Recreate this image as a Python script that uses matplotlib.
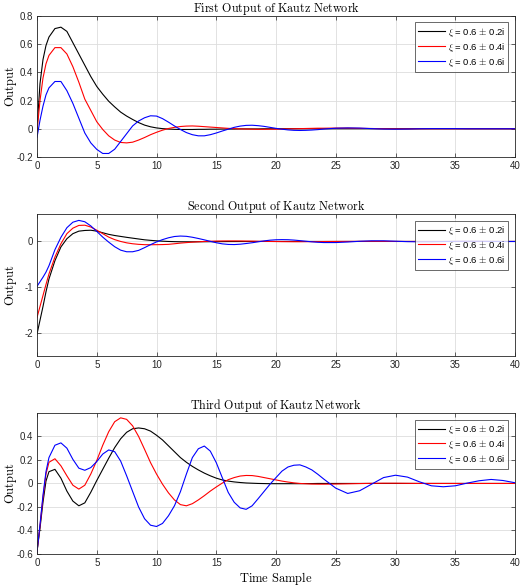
import matplotlib
matplotlib.use("Agg")
import matplotlib.pyplot as plt
import numpy as np

plt.rcParams['font.family'] = ['Liberation Sans', 'DejaVu Sans']
plt.rcParams['mathtext.fontset'] = 'cm'

# time samples (finer at start, then integer samples)
t = [0, 0.25, 0.5, 0.75] + list(np.arange(1, 24.5, 0.5)) + list(range(25, 41))

# --- first output ---
y1_black = [0.0, 0.32, 0.49, 0.59,
            0.65, 0.71, 0.72, 0.69, 0.61, 0.53, 0.45, 0.37, 0.30, 0.245,
            0.195, 0.155, 0.118, 0.09, 0.066, 0.044, 0.026, 0.014, 0.006, 0.001,
            -0.002, -0.004, -0.005, -0.005, -0.005, -0.004, -0.004, -0.003, -0.003, -0.002,
            -0.002, -0.002, -0.001, -0.001, -0.001, -0.001, 0, 0, 0, 0,
            0, 0, 0, 0, 0, 0, 0,
            0, 0, 0, 0, 0, 0, 0, 0, 0, 0, 0, 0, 0, 0, 0, 0]
y1_red = [-0.02, 0.2, 0.36, 0.46,
          0.52, 0.575, 0.575, 0.53, 0.44, 0.33, 0.21, 0.13, 0.05, -0.005,
          -0.05, -0.08, -0.097, -0.10, -0.095, -0.08, -0.062, -0.042, -0.025, -0.01,
          0.002, 0.01, 0.016, 0.019, 0.02, 0.018, 0.015, 0.012, 0.009, 0.006,
          0.003, 0.001, -0.001, -0.002, -0.003, -0.004, -0.004, -0.003, -0.003, -0.002,
          -0.001, 0, 0.001, 0.002, 0.003, 0.004, 0.004,
          0.005, 0.005, 0.003, 0.002, 0, -0.001, -0.001, 0, 0, 0, 0, 0, 0, 0, 0, 0]
y1_blue = [-0.06, 0.06, 0.16, 0.24,
           0.29, 0.335, 0.335, 0.27, 0.18, 0.075, -0.03, -0.10, -0.146, -0.175,
           -0.175, -0.145, -0.09, -0.035, 0.02, 0.055, 0.078, 0.092, 0.09, 0.072,
           0.047, 0.02, -0.005, -0.027, -0.042, -0.05, -0.05, -0.042, -0.03, -0.016,
           -0.003, 0.01, 0.019, 0.024, 0.025, 0.022, 0.017, 0.01, 0.003, -0.003,
           -0.008, -0.011, -0.012, -0.011, -0.009, -0.006, -0.002,
           0.004, 0.006, 0.005, 0.001, -0.002, -0.003, -0.002, 0, 0.001, 0.001, 0.001, 0, 0, 0, 0, 0]

# --- second output ---
y2_black = [-2.02, -1.72, -1.42, -1.1,
            -0.82, -0.42, -0.12, 0.06, 0.17, 0.225, 0.24, 0.245, 0.225, 0.19,
            0.155, 0.13, 0.11, 0.09, 0.072, 0.054, 0.036, 0.024, 0.014, 0.006,
            0.0, -0.004, -0.007, -0.008, -0.008, -0.007, -0.006, -0.005, -0.004, -0.003,
            -0.002, -0.002, -0.001, -0.001, 0, 0, 0, 0, 0, 0,
            0, 0, 0, 0, 0, 0, 0,
            0, 0, 0, 0, 0, 0, 0, 0, 0, 0, 0, 0, 0, 0, 0, 0]
y2_red = [-1.66, -1.42, -1.18, -0.94,
          -0.71, -0.34, -0.05, 0.17, 0.29, 0.35, 0.355, 0.315, 0.245, 0.17,
          0.095, 0.04, 0.0, -0.03, -0.05, -0.063, -0.07, -0.072, -0.07, -0.068,
          -0.063, -0.05, -0.036, -0.025, -0.015, -0.007, 0.0, 0.005, 0.009, 0.011,
          0.012, 0.012, 0.011, 0.009, 0.007, 0.004, 0.002, 0.0, -0.002, -0.004,
          -0.005, -0.006, -0.006, -0.005, -0.004, -0.003, -0.002,
          0, 0.001, 0.002, 0.002, 0.001, 0, 0, 0, 0, 0, 0, 0, 0, 0, 0, 0]
y2_blue = [-0.98, -0.88, -0.78, -0.67,
           -0.53, -0.18, 0.09, 0.30, 0.42, 0.46, 0.43, 0.34, 0.22, 0.095,
           -0.015, -0.115, -0.19, -0.225, -0.225, -0.195, -0.135, -0.07, -0.01, 0.04,
           0.08, 0.108, 0.118, 0.112, 0.092, 0.065, 0.035, 0.003, -0.028, -0.052,
           -0.065, -0.068, -0.06, -0.045, -0.028, -0.008, 0.012, 0.028, 0.037, 0.04,
           0.038, 0.03, 0.018, 0.005, -0.008, -0.018, -0.024,
           -0.024, -0.012, 0.004, 0.014, 0.014, 0.005, -0.004, -0.008, -0.007, -0.002,
           0.002, 0.004, 0.003, 0.001, -0.001, -0.001]

# --- third output ---
y3_black = [-0.58, -0.38, -0.16, 0.02,
            0.10, 0.12, 0.045, -0.065, -0.15, -0.19, -0.165, -0.075, 0.025, 0.12,
            0.215, 0.305, 0.38, 0.435, 0.465, 0.472, 0.465, 0.445, 0.41, 0.37,
            0.32, 0.27, 0.22, 0.18, 0.145, 0.115, 0.088, 0.065, 0.045, 0.03,
            0.02, 0.013, 0.008, 0.004, 0.002, 0.0, -0.001, -0.002, -0.002, -0.002,
            -0.002, -0.002, -0.002, -0.001, -0.001, 0, 0,
            0, 0, 0, 0, 0, 0, 0, 0, 0, 0, 0, 0, 0, 0, 0, 0]
y3_red = [-0.58, -0.36, -0.12, 0.08,
          0.18, 0.21, 0.15, 0.065, -0.015, -0.048, -0.015, 0.08, 0.195, 0.325,
          0.44, 0.525, 0.558, 0.545, 0.49, 0.40, 0.29, 0.177, 0.08, -0.006,
          -0.08, -0.14, -0.18, -0.19, -0.172, -0.14, -0.104, -0.065, -0.03, 0.003,
          0.032, 0.05, 0.063, 0.068, 0.067, 0.06, 0.05, 0.04, 0.03, 0.02,
          0.012, 0.005, 0.0, -0.003, -0.005, -0.006, -0.006,
          -0.005, -0.003, -0.001, 0.001, 0.002, 0.002, 0.001, 0, 0, 0, 0, 0, 0, 0, 0, 0]
y3_blue = [-0.58, -0.35, -0.1, 0.1,
           0.22, 0.325, 0.345, 0.30, 0.205, 0.13, 0.112, 0.135, 0.186, 0.25,
           0.285, 0.27, 0.19, 0.065, -0.068, -0.2, -0.30, -0.355, -0.366, -0.34,
           -0.275, -0.19, -0.07, 0.08, 0.22, 0.295, 0.318, 0.275, 0.177, 0.05,
           -0.076, -0.16, -0.208, -0.22, -0.19, -0.13, -0.068, -0.006, 0.05, 0.105,
           0.14, 0.155, 0.158, 0.14, 0.115, 0.078, 0.037,
           -0.04, -0.085, -0.062, -0.006, 0.05, 0.07, 0.054, 0.014, -0.02, -0.028,
           -0.02, 0.003, 0.023, 0.034, 0.025, 0.006]

labels = [r'$\xi$ = 0.6 $\pm$ 0.2i', r'$\xi$ = 0.6 $\pm$ 0.4i', r'$\xi$ = 0.6 $\pm$ 0.6i']
titles = ['First Output of Kautz Network', 'Second Output of Kautz Network',
          'Third Output of Kautz Network']
colors = ['k', 'r', 'b']

panels = [
    ([y1_black, y1_red, y1_blue], (-0.2, 0.8), [-0.2, 0, 0.2, 0.4, 0.6, 0.8], ['-0.2', '0', '0.2', '0.4', '0.6', '0.8']),
    ([y2_black, y2_red, y2_blue], (-2.5, 0.6), [-2, -1, 0], ['-2', '-1', '0']),
    ([y3_black, y3_red, y3_blue], (-0.6, 0.6), [-0.6, -0.4, -0.2, 0, 0.2, 0.4], ['-0.6', '-0.4', '-0.2', '0', '0.2', '0.4']),
]

fig = plt.figure(figsize=(5.25, 5.88), dpi=100)
boxes = [[0.0705, 0.733, 0.9105, 0.240],
         [0.0705, 0.3946, 0.9105, 0.2415],
         [0.0705, 0.0578, 0.9105, 0.240]]

for k, (series, ylim, yt, ytl) in enumerate(panels):
    ax = fig.add_axes(boxes[k])
    for ys, c, lab in zip(series, colors, labels):
        ax.plot(t, ys, color=c, lw=0.8, label=lab)
    ax.set_xlim(0, 40)
    ax.set_ylim(*ylim)
    ax.set_xticks(range(0, 41, 5))
    ax.set_yticks(yt)
    ax.set_yticklabels(ytl)
    ax.grid(True, color='#dddddd', lw=0.6)
    ax.tick_params(direction='in', top=True, right=True, length=3, width=0.5,
                   labelsize=7, colors='#262626', pad=3)
    for s in ax.spines.values():
        s.set_linewidth(0.6)
        s.set_color('#262626')
    ax.set_title(r'$\mathrm{' + titles[k].replace(' ', r'\ ') + '}$', fontsize=8.7, pad=3)
    ax.set_ylabel(r'$\mathrm{Output}$', fontsize=9)
    ax.yaxis.set_label_coords(-0.037, 0.5)
    leg = ax.legend(loc='upper right', fontsize=6.8, frameon=True, fancybox=False,
                    edgecolor='#262626', handlelength=2.8, handletextpad=0.3,
                    borderaxespad=0.7, labelspacing=0.2, borderpad=0.35)
    leg.get_frame().set_linewidth(0.6)
    if k == 2:
        ax.set_xlabel(r'$\mathrm{Time\ Sample}$', fontsize=9, labelpad=1)

fig.savefig('out.png', dpi=100)
